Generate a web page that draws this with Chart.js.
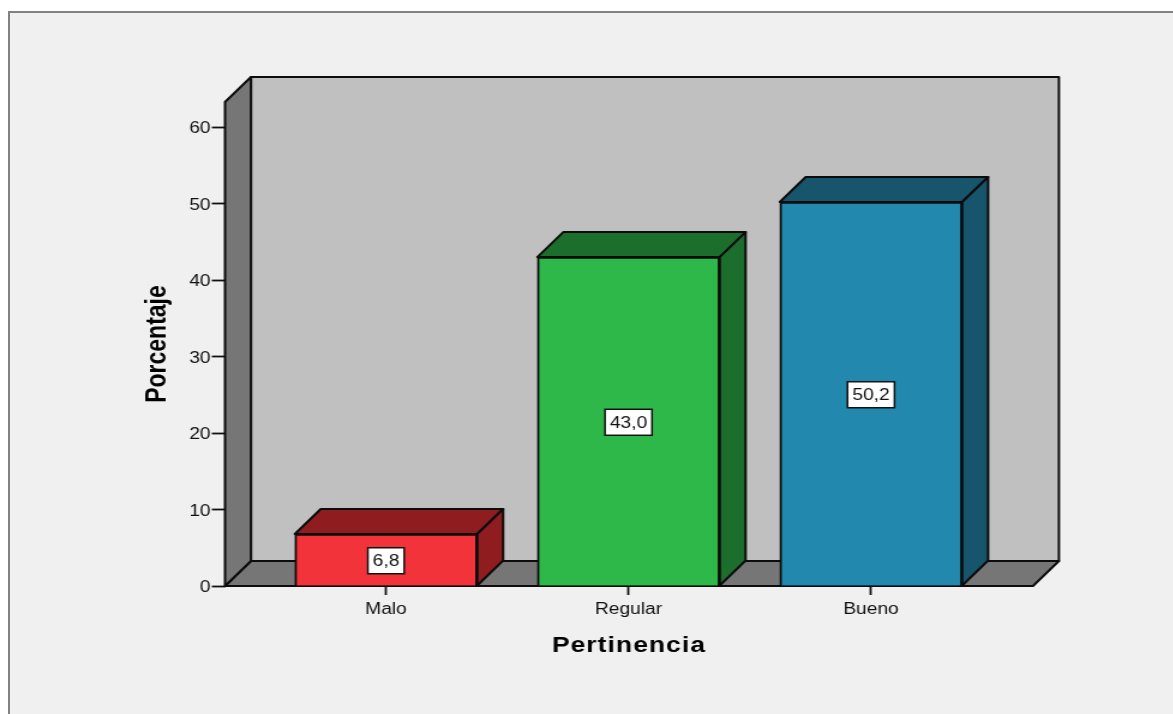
<!DOCTYPE html>
<html>
<head>
<meta charset="utf-8">
<script src="https://cdn.jsdelivr.net/npm/chart.js@4/dist/chart.umd.min.js"></script>
<style>
html,body{margin:0;padding:0;width:1173px;height:714px;overflow:hidden;background:#fff}
#frame{position:absolute;left:8px;top:11px;width:1200px;height:760px;border:2.5px solid #828282;background:#f0f0f0;filter:blur(0.5px)}
#c{position:absolute;left:0;top:0;transform-origin:0 0;transform:scaleX(1.2);filter:blur(0.5px)}
</style>
</head>
<body>
<div id="frame"></div>
<canvas id="c" width="978" height="714"></canvas>
<script>
const categories = ['Malo', 'Regular', 'Bueno'];
const values = [6.8, 43.0, 50.2];
const frontColors = ['#f2333a', '#2fb84a', '#2288ad'];
const sideColors = ['#8f1d20', '#1c6e2c', '#16556b'];
const yTicks = [0, 10, 20, 30, 40, 50, 60];
const yTitle = 'Porcentaje';
const xTitle = 'Pertinencia';

const DX = 21.6, DY = 25, INK = '#0c0c0c', LW = 2;

function poly(ctx, pts, fill) {
  ctx.beginPath();
  pts.forEach((p, i) => i ? ctx.lineTo(p[0], p[1]) : ctx.moveTo(p[0], p[1]));
  ctx.closePath();
  ctx.fillStyle = fill;
  ctx.fill();
  ctx.lineWidth = LW;
  ctx.strokeStyle = INK;
  ctx.lineJoin = 'round';
  ctx.stroke();
}

const box3d = {
  id: 'box3d',
  beforeInit(chart) {},
  beforeDraw(chart) {
    const s = chart.scales.x;
    if (!s._spaced) {
      const orig = s.drawTitle;
      s.drawTitle = function () {
        const c = this.ctx;
        c.save();
        c.letterSpacing = '0.9px';
        orig.call(this);
        c.restore();
      };
      s._spaced = true;
    }
  },
  beforeDatasetsDraw(chart) {
    const { ctx, chartArea: a } = chart;
    const l = a.left, r = a.right, t = a.top, b = a.bottom;
    ctx.save();
    poly(ctx, [[l + DX, t - DY], [r + DX, t - DY], [r + DX, b - DY], [l + DX, b - DY]], '#c0c0c0');
    poly(ctx, [[l, b], [l + DX, b - DY], [r + DX, b - DY], [r, b]], '#767676');
    poly(ctx, [[l, t], [l + DX, t - DY], [l + DX, b - DY], [l, b]], '#767676');
    chart.getDatasetMeta(0).data.forEach((bar, i) => {
      const x0 = bar.x - bar.width / 2, x1 = bar.x + bar.width / 2;
      poly(ctx, [[x0, bar.y], [x0 + DX, bar.y - DY], [x1 + DX, bar.y - DY], [x1, bar.y]], sideColors[i]);
      poly(ctx, [[x1, bar.y], [x1 + DX, bar.y - DY], [x1 + DX, bar.base - DY], [x1, bar.base]], sideColors[i]);
    });
    ctx.restore();
  },
  afterDatasetsDraw(chart) {
    const { ctx } = chart;
    ctx.save();
    ctx.font = '16px "Liberation Sans"';
    ctx.textAlign = 'center';
    ctx.textBaseline = 'middle';
    chart.getDatasetMeta(0).data.forEach((bar, i) => {
      const txt = values[i].toFixed(1).replace('.', ',');
      const w = ctx.measureText(txt).width + 8, h = 26;
      const cy = (bar.y + bar.base) / 2 + 1;
      ctx.fillStyle = '#fff';
      ctx.fillRect(bar.x - w / 2, cy - h / 2, w, h);
      ctx.lineWidth = 1.5;
      ctx.strokeStyle = '#111';
      ctx.strokeRect(bar.x - w / 2, cy - h / 2, w, h);
      ctx.fillStyle = '#111';
      ctx.fillText(txt, bar.x, cy + 1);
    });
    ctx.restore();
  }
};

new Chart(document.getElementById('c'), {
  type: 'bar',
  plugins: [box3d],
  data: {
    datasets: [{
      data: values.map((v, i) => ({ x: i, y: v })),
      backgroundColor: frontColors,
      borderColor: INK,
      borderWidth: LW,
      barThickness: 152
    }]
  },
  options: {
    responsive: false,
    animation: false,
    layout: { padding: { left: 0, right: 117.2, top: 102, bottom: 0 } },
    plugins: { legend: { display: false }, tooltip: { enabled: false } },
    scales: {
      x: {
        type: 'linear',
        offset: false,
        min: -0.664,
        max: 2.668,
        afterBuildTicks(s) { s.ticks = categories.map((_, i) => ({ value: i })); },
        afterFit(s) { s.height = 128; },
        ticks: {
          callback: v => categories[v],
          color: '#111',
          font: { family: '"Liberation Sans"', size: 16 },
          padding: 5,
          maxRotation: 0
        },
        grid: { offset: false, drawOnChartArea: false, drawTicks: true, tickLength: 9, tickColor: '#111', tickWidth: 1.8 },
        border: { display: false },
        title: {
          display: true,
          text: xTitle,
          color: '#000',
          font: { family: '"Liberation Sans"', size: 22, weight: 'bold' },
          padding: { top: 0, bottom: 55 }
        }
      },
      y: {
        min: 0,
        max: 63.27,
        afterBuildTicks(s) { s.ticks = yTicks.map(v => ({ value: v })); },
        afterFit(s) { s.width = 187.5; },
        ticks: {
          color: '#111',
          font: { family: '"Liberation Sans"', size: 16 },
          padding: 1,
          labelOffset: 2
        },
        grid: { drawOnChartArea: false, drawTicks: true, tickLength: 11, tickColor: '#111', tickWidth: 1.8 },
        border: { display: false },
        title: {
          display: true,
          text: yTitle,
          color: '#000',
          font: { family: '"Liberation Sans"', size: 23, weight: 'bold' },
          padding: { top: 118, bottom: 118 }
        }
      }
    }
  }
});
</script>
</body>
</html>
